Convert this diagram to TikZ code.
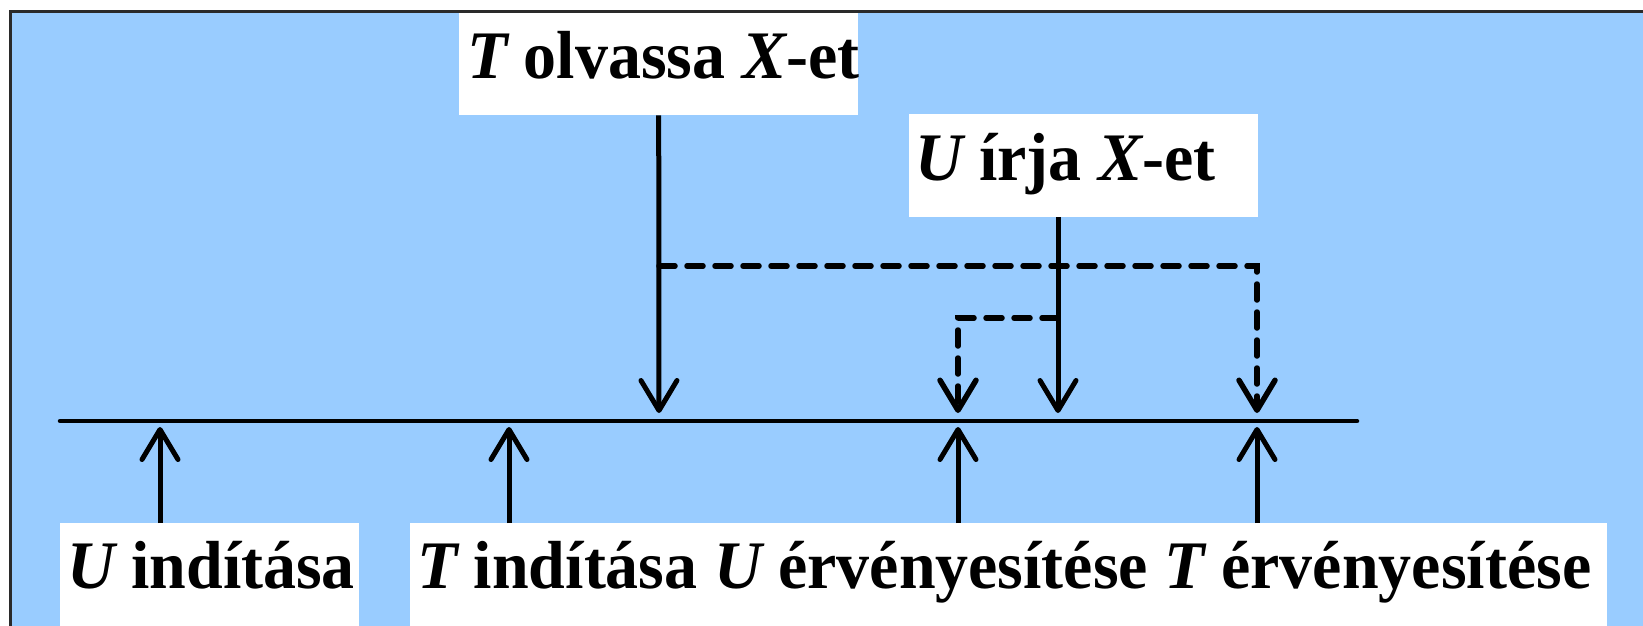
\documentclass[tikz,border=0pt]{standalone}
\usepackage{fontspec}
\setmainfont{Liberation Serif}[FakeStretch=0.97]
\usetikzlibrary{arrows.meta}
\definecolor{bgblue}{HTML}{99CCFF}
\definecolor{framegray}{HTML}{2A2A2A}
\tikzset{
  whitebox/.style={fill=white, inner sep=0pt, anchor=north west},
  lbl/.style={inner sep=0pt, anchor=base west, font=\fontsize{68}{80}\selectfont\bfseries},
  arr/.style={line width=5pt, -{Straight Barb[length=30pt, width=36pt, round]}},
  darr/.style={arr, line width=5.5pt, dash pattern=on 16pt off 12pt, line cap=round},
  axisline/.style={line width=4.5pt, line cap=round}
}
\begin{document}
\begin{tikzpicture}[x=1pt, y=-1pt]
\useasboundingbox (0,0) rectangle (1643,625);
\clip (0,0) rectangle (1643,625);
\fill[white] (0,0) rectangle (1643,625);
\fill[bgblue] (10,11) rectangle (1650,630);
\draw[framegray, line width=3pt] (10,635) -- (10,11) -- (1650,11);
% boxes
\node[whitebox, minimum width=399pt, minimum height=102pt] (tbox) at (459,13) {};
\node[lbl] (ttext) at (467,78) {{\itshape T} olvassa {\itshape X}-et};
\node[whitebox, minimum width=349pt, minimum height=103pt] (ubox) at (909,114) {};
\node[lbl] (utext) at (915,180) {{\itshape U} írja {\itshape X}-et};
\node[whitebox, minimum width=299pt, minimum height=110pt] (b1) at (60,523) {};
\node[lbl] (b1text) at (67,588) {{\itshape U} indítása};
\node[whitebox, minimum width=1197pt, minimum height=110pt] (b2) at (410,523) {};
\node[lbl] (b2text) at (417,588) {{\itshape T} indítása {\itshape U} érvényesítése {\itshape T} érvényesítése};
% axis
\coordinate (axL) at (60,421);
\coordinate (axR) at (1357,421);
\draw[axisline] (axL) -- (axR);
% coordinates
\coordinate (uw) at (1058,217);
\coordinate (d1) at (659,413);
\coordinate (d2) at (958,413);
\coordinate (d3) at (1058,413);
\coordinate (d4) at (1257,413);
\coordinate (j1) at (659,266);
\coordinate (j1r) at (1257,266);
\coordinate (j2) at (1058,318);
\coordinate (j2l) at (958,318);
\coordinate (u1) at (160,427);
\coordinate (u2) at (509,427);
\coordinate (u3) at (958,427);
\coordinate (u4) at (1257,427);
% down arrows
\draw[arr] (tbox.south) -- (d1);
\draw[arr] (uw) -- (d3);
\draw[darr] (j1) -- (j1r) -- (d4);
\draw[darr] (j2) -- (j2l) -- (d2);
% up arrows
\draw[arr] (160,523) -- (u1);
\draw[arr] (509,523) -- (u2);
\draw[arr] (958,523) -- (u3);
\draw[arr] (1257,523) -- (u4);
\end{tikzpicture}
\end{document}
